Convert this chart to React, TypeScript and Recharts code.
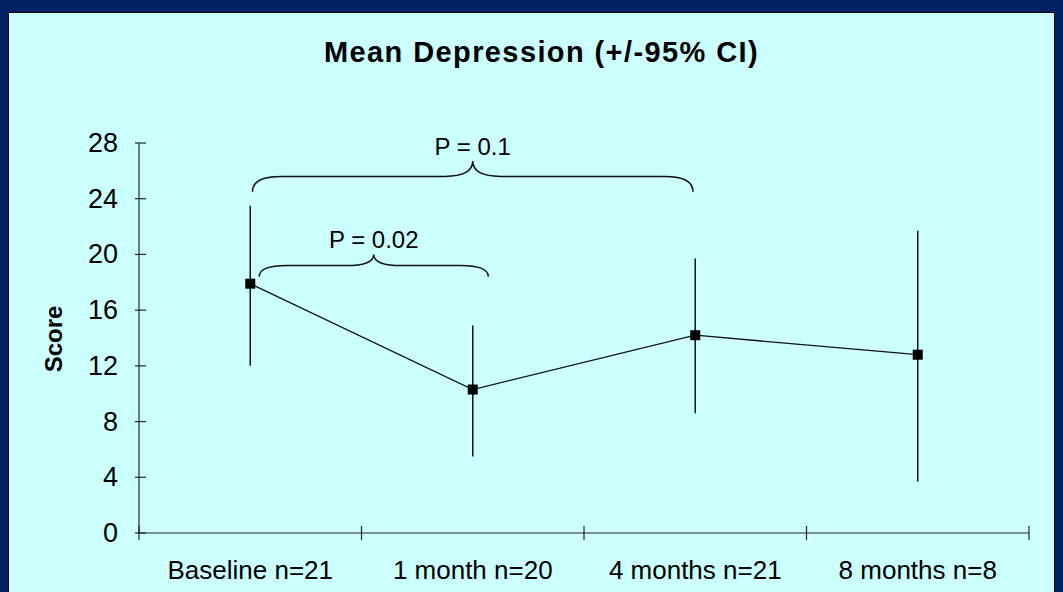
import React from 'react';
import { ComposedChart, Line, XAxis, YAxis, ErrorBar, ReferenceArea } from 'recharts';

const categories = ['Baseline n=21', '1 month n=20', '4 months n=21', '8 months n=8'];
const means = [17.9, 10.3, 14.2, 12.8];
const ciLow = [12.0, 5.5, 8.6, 3.7];
const ciHigh = [23.5, 14.9, 19.7, 21.7];
const yTicks = [0, 4, 8, 12, 16, 20, 24, 28];
const xTicks = [0, 0.5, 1, 1.5, 2, 2.5, 3, 3.5, 4];

// comparison braces: x in category units, y in score units
const braceLabels = ['P = 0.1', 'P = 0.02'];
const braceFrom = [0.51, 0.54];
const braceTo = [2.49, 1.57];
const braceTip = [24.5, 18.4];
const bracePeak = [26.7, 20.0];

const rows = categories.map((name, i) => ({
  x: i + 0.5,
  name,
  mean: means[i],
  err: [means[i] - ciLow[i], ciHigh[i] - means[i]],
}));

const FONT = '"Liberation Sans", Arial, sans-serif';

const YTick = (props: any) => {
  const { x, y, payload } = props;
  return (
    <g>
      <line x1={x - 4} x2={x + 7} y1={y} y2={y} stroke="#222" strokeWidth={1.2} />
      <text x={x - 21} y={y} textAnchor="end" dominantBaseline="central" fontFamily={FONT} fontSize={27} fill="#000">
        {payload.value}
      </text>
    </g>
  );
};

const XTick = (props: any) => {
  const { x, y, payload } = props;
  const v = payload.value;
  if (Number.isInteger(v)) {
    return <line x1={x} x2={x} y1={y - 7} y2={y + 7} stroke="#222" strokeWidth={1.2} />;
  }
  return (
    <text x={x} y={y + 46} textAnchor="middle" fontFamily={FONT} fontSize={26} fill="#000">
      {categories[Math.floor(v)]}
    </text>
  );
};

const SquareDot = (props: any) => {
  const { cx, cy, index } = props;
  return <rect key={index} x={cx - 5} y={cy - 5} width={10} height={10} fill="#000" />;
};

const Brace = (props: any) => {
  const { x, y, width, height, label } = props;
  const tip = y + height;
  const mid = y + height / 2;
  const cx = x + width / 2;
  const r = 28;
  const d = [
    `M ${x} ${tip}`,
    `Q ${x} ${mid} ${x + r} ${mid}`,
    `L ${cx - r} ${mid}`,
    `Q ${cx} ${mid} ${cx} ${y}`,
    `Q ${cx} ${mid} ${cx + r} ${mid}`,
    `L ${x + width - r} ${mid}`,
    `Q ${x + width} ${mid} ${x + width} ${tip}`,
  ].join(' ');
  return (
    <g>
      <path d={d} fill="none" stroke="#111" strokeWidth={1.5} />
      <text x={cx} y={y - 6} textAnchor="middle" fontFamily={FONT} fontSize={24} fill="#000">
        {label}
      </text>
    </g>
  );
};

export default function App() {
  return (
    <div style={{ position: 'relative', width: 1063, height: 592, background: '#002366', overflow: 'hidden' }}>
      <style>{`body{margin:0}`}</style>
      <div
        style={{
          position: 'absolute',
          left: 8,
          top: 12,
          width: 1047,
          height: 592,
          background: '#CCFFFF',
          border: '1px solid #000',
          boxSizing: 'border-box',
        }}
      />
      <div
        style={{
          position: 'absolute',
          left: 0,
          width: 1083,
          top: 38,
          textAlign: 'center',
          fontFamily: FONT,
          fontWeight: 'bold',
          fontSize: 29,
          lineHeight: 1,
          letterSpacing: 1.4,
          color: '#000',
        }}
      >
        Mean Depression (+/-95% CI)
      </div>
      <div
        style={{
          position: 'absolute',
          left: 54,
          top: 339,
          transform: 'translate(-50%, -50%) rotate(-90deg)',
          fontFamily: FONT,
          fontWeight: 'bold',
          fontSize: 24,
          lineHeight: 1,
          color: '#000',
          whiteSpace: 'nowrap',
        }}
      >
        Score
      </div>
      <div style={{ position: 'absolute', left: 0, top: 0 }}>
        <ComposedChart width={1063} height={592} data={rows} margin={{ top: 143, right: 34, bottom: 0, left: 79 }}>
          <XAxis
            dataKey="x"
            type="number"
            domain={[0, 4]}
            ticks={xTicks}
            interval={0}
            height={59}
            tickSize={0}
            tickMargin={0}
            tickLine={false}
            axisLine={{ stroke: '#222', strokeWidth: 1.2 }}
            tick={XTick}
          />
          <YAxis
            type="number"
            domain={[0, 28]}
            ticks={yTicks}
            interval={0}
            width={60}
            tickSize={0}
            tickMargin={0}
            tickLine={false}
            axisLine={{ stroke: '#222', strokeWidth: 1.2 }}
            tick={YTick}
          />
          {braceLabels.map((label, i) => (
            <ReferenceArea
              key={label}
              x1={braceFrom[i]}
              x2={braceTo[i]}
              y1={braceTip[i]}
              y2={bracePeak[i]}
              ifOverflow="visible"
              shape={(p: any) => <Brace {...p} label={label} />}
            />
          ))}
          <Line
            type="linear"
            dataKey="mean"
            stroke="#111"
            strokeWidth={1.3}
            dot={SquareDot}
            activeDot={false}
            isAnimationActive={false}
          >
            <ErrorBar dataKey="err" direction="y" width={0} stroke="#111" strokeWidth={1.5} isAnimationActive={false} />
          </Line>
        </ComposedChart>
      </div>
    </div>
  );
}
